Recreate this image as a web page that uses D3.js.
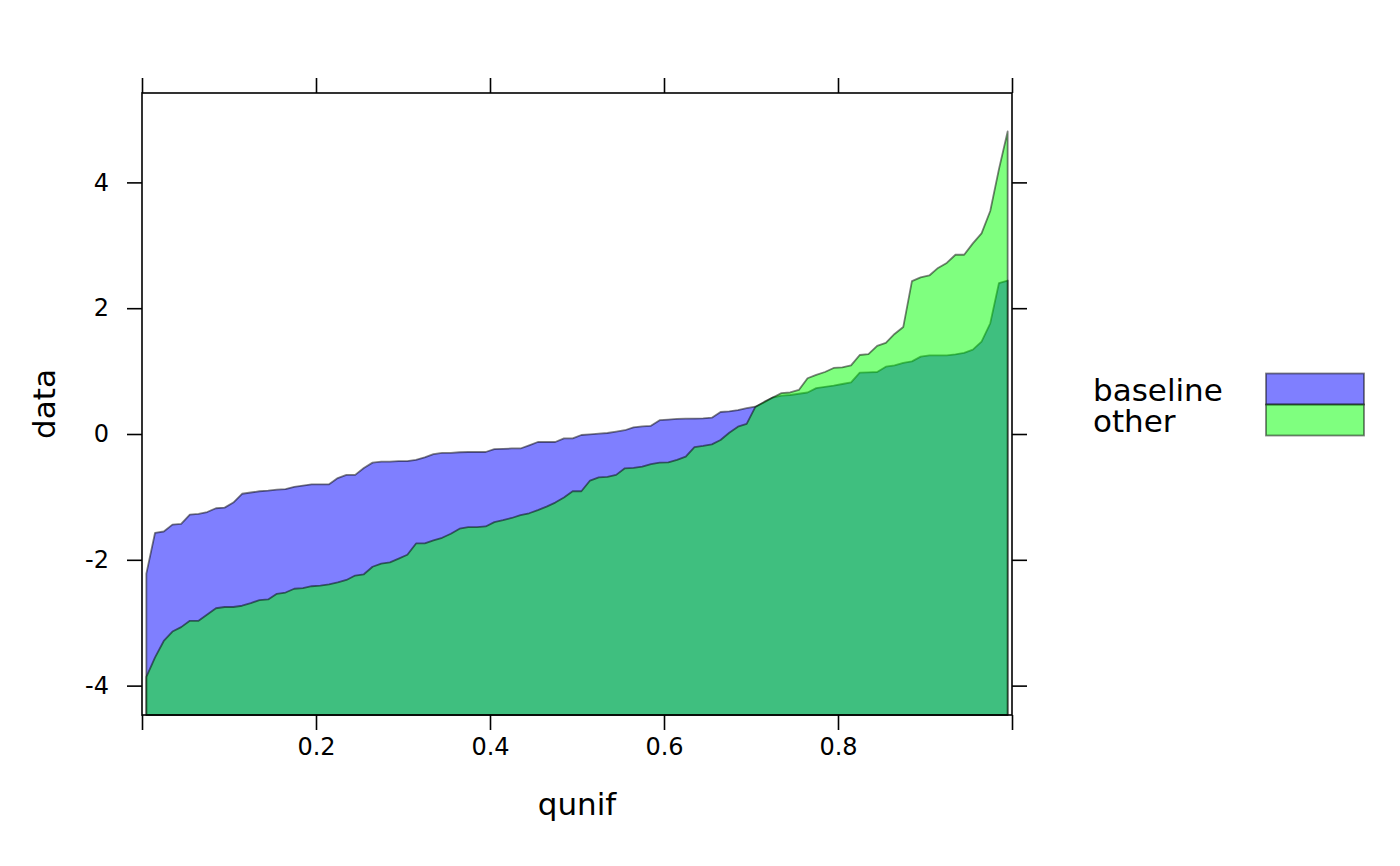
<!DOCTYPE html>
<html>
<head>
<meta charset="utf-8">
<script src="https://cdn.jsdelivr.net/npm/d3@7"></script>
<style>
  html, body { margin: 0; padding: 0; background: #fff; }
  svg { display: block; font-family: "DejaVu Sans", sans-serif; }
</style>
</head>
<body>
<svg id="chart" width="1400" height="866"></svg>
<script>
// ---- data ----
const seriesNames = ["baseline", "other"];
const baselineValues = [
  -2.22, -1.57, -1.55, -1.44, -1.43, -1.28, -1.27, -1.24, -1.18, -1.17,
  -1.09, -0.95, -0.93, -0.91, -0.90, -0.885, -0.875, -0.84, -0.82, -0.80,
  -0.80, -0.80, -0.70, -0.65, -0.65, -0.54, -0.455, -0.44, -0.44, -0.43,
  -0.43, -0.41, -0.37, -0.32, -0.30, -0.30, -0.29, -0.286, -0.286, -0.286,
  -0.24, -0.235, -0.23, -0.23, -0.18, -0.127, -0.127, -0.127, -0.07, -0.07,
  -0.016, -0.005, 0.005, 0.016, 0.037, 0.06, 0.106, 0.12, 0.13, 0.22,
  0.23, 0.24, 0.243, 0.245, 0.25, 0.26, 0.35, 0.36, 0.38, 0.41,
  0.434, 0.50, 0.58, 0.61, 0.62, 0.64, 0.66, 0.73, 0.75, 0.77,
  0.795, 0.82, 0.975, 0.98, 0.986, 1.07, 1.09, 1.13, 1.155, 1.23,
  1.25, 1.25, 1.25, 1.267, 1.29, 1.34, 1.47, 1.76, 2.40, 2.44
];
const otherValues = [
  -3.86, -3.55, -3.29, -3.14, -3.07, -2.97, -2.97, -2.87, -2.77, -2.75,
  -2.75, -2.73, -2.69, -2.64, -2.63, -2.54, -2.52, -2.46, -2.45, -2.42,
  -2.41, -2.39, -2.36, -2.32, -2.25, -2.23, -2.11, -2.06, -2.04, -1.98,
  -1.92, -1.74, -1.74, -1.69, -1.65, -1.585, -1.505, -1.48, -1.48, -1.47,
  -1.40, -1.37, -1.335, -1.29, -1.26, -1.21, -1.155, -1.09, -1.01, -0.91,
  -0.91, -0.74, -0.69, -0.68, -0.65, -0.545, -0.54, -0.52, -0.48, -0.455,
  -0.45, -0.41, -0.36, -0.21, -0.19, -0.165, -0.095, 0.02, 0.116, 0.16,
  0.43, 0.51, 0.58, 0.65, 0.66, 0.70, 0.886, 0.94, 0.986, 1.05,
  1.06, 1.09, 1.256, 1.27, 1.40, 1.45, 1.59, 1.70, 2.43, 2.49,
  2.52, 2.64, 2.72, 2.85, 2.85, 3.03, 3.19, 3.545, 4.21, 4.81
];
const xTickValues = [0, 0.2, 0.4, 0.6, 0.8, 1];
const xTickLabels = ["", "0.2", "0.4", "0.6", "0.8", ""];
const yTickValues = [-4, -2, 0, 2, 4];
const yTickLabels = ["-4", "-2", "0", "2", "4"];
const xLabel = "qunif";
const yLabel = "data";

// ---- layout ----
const svg = d3.select("#chart");
const panel = { left: 142, right: 1012, top: 93, bottom: 715 };
const x = d3.scaleLinear().domain([0, 1]).range([panel.left, panel.right]);
const y = d3.scaleLinear().domain([-4.467, 5.421]).range([panel.bottom, panel.top]);

const n = baselineValues.length;
const qunif = d3.range(n).map(i => (i + 0.5) / n);

const fills = ["rgba(0,0,255,0.5)", "rgba(0,255,0,0.5)"];
const strokeCol = "rgba(0,0,0,0.5)";

const area = d3.area()
  .x(d => x(d[0]))
  .y0(y(y.domain()[0]))
  .y1(d => y(d[1]));

[baselineValues, otherValues].forEach((vals, k) => {
  svg.append("path")
    .datum(qunif.map((q, i) => [q, vals[i]]))
    .attr("d", area)
    .attr("fill", fills[k])
    .attr("stroke", strokeCol)
    .attr("stroke-width", 1.8)
    .attr("stroke-linejoin", "round");
});

// panel border
svg.append("rect")
  .attr("x", panel.left).attr("y", panel.top)
  .attr("width", panel.right - panel.left).attr("height", panel.bottom - panel.top)
  .attr("fill", "none").attr("stroke", "#000").attr("stroke-width", 1.6);

// axes
const tickLen = 15;
const axisFont = "24px";
const bottomAxis = d3.axisBottom(x).tickValues(xTickValues)
  .tickFormat((d, i) => xTickLabels[i]).tickSizeInner(tickLen).tickSizeOuter(0).tickPadding(8);
const topAxis = d3.axisTop(x).tickValues(xTickValues)
  .tickFormat("").tickSizeInner(tickLen).tickSizeOuter(0);
const leftAxis = d3.axisLeft(y).tickValues(yTickValues)
  .tickFormat((d, i) => yTickLabels[i]).tickSizeInner(tickLen).tickSizeOuter(0).tickPadding(18);
const rightAxis = d3.axisRight(y).tickValues(yTickValues)
  .tickFormat("").tickSizeInner(tickLen).tickSizeOuter(0);

function styleAxis(g) {
  g.select(".domain").remove();
  g.selectAll(".tick line").attr("stroke", "#000").attr("stroke-width", 1.6);
  g.selectAll(".tick text").attr("fill", "#000")
    .style("font-size", axisFont).style("font-family", "DejaVu Sans");
}
svg.append("g").attr("transform", `translate(0,${panel.bottom})`).call(bottomAxis).call(styleAxis);
svg.append("g").attr("transform", `translate(0,${panel.top})`).call(topAxis).call(styleAxis);
svg.append("g").attr("transform", `translate(${panel.left},0)`).call(leftAxis).call(styleAxis);
svg.append("g").attr("transform", `translate(${panel.right},0)`).call(rightAxis).call(styleAxis);

// axis labels
const labelFont = "31px";
svg.append("text")
  .attr("x", (panel.left + panel.right) / 2).attr("y", 815)
  .attr("text-anchor", "middle").style("font-size", labelFont).text(xLabel);
svg.append("text")
  .attr("transform", `translate(55,${(panel.top + panel.bottom) / 2}) rotate(-90)`)
  .attr("text-anchor", "middle").style("font-size", labelFont).text(yLabel);

// legend
const legend = svg.append("g");
seriesNames.forEach((name, i) => {
  legend.append("text")
    .attr("x", 1093).attr("y", 401 + i * 31)
    .style("font-size", labelFont).text(name);
  legend.append("rect")
    .attr("x", 1266).attr("y", 373.5 + i * 31)
    .attr("width", 98).attr("height", 31)
    .attr("fill", fills[i]).attr("stroke", strokeCol).attr("stroke-width", 1.8);
});
</script>
</body>
</html>
